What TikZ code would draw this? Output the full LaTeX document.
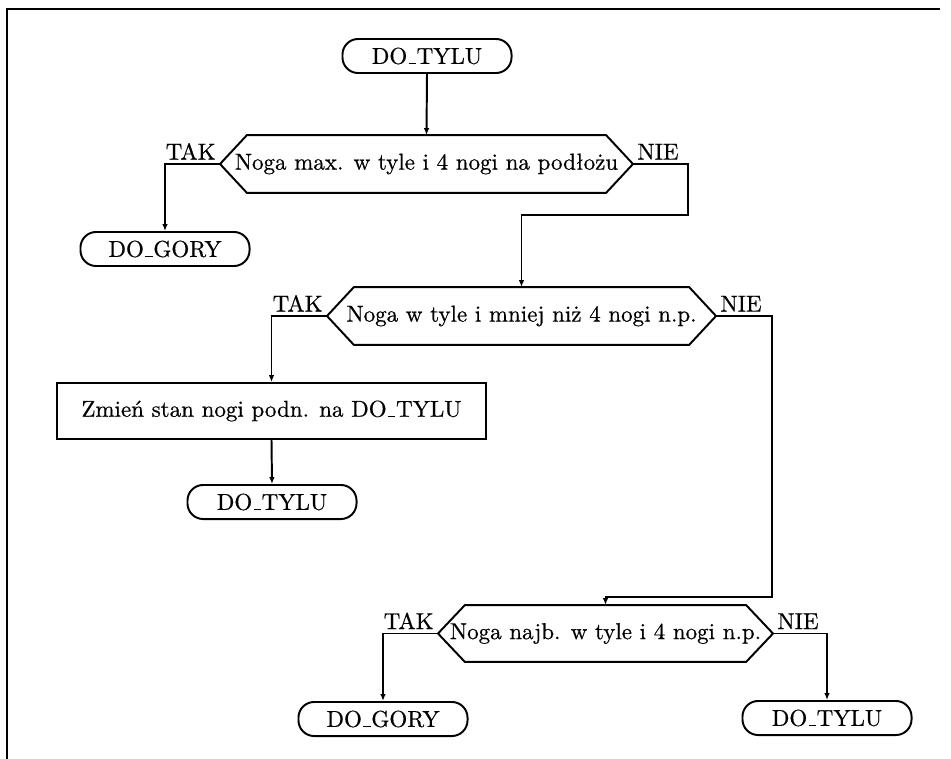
\documentclass[tikz,border=0pt]{standalone}
\usepackage{fontspec}
\setmainfont{Latin Modern Roman}[FakeBold=0.6]
\usetikzlibrary{arrows.meta}
\newcommand\usc{\leavevmode\kern.06em\vbox{\hrule width.32em height.5pt}\kern.03em}
\begin{document}
\begin{tikzpicture}[x=0.4348pt,y=-0.4348pt,
  line width=0.85pt,
  term/.style={draw,rounded corners=6.8pt,minimum width=73.5pt,minimum height=14.8pt,inner sep=0pt},
  proc/.style={draw,minimum width=186.5pt,minimum height=24.3pt,inner sep=0pt},
  dec/.style={inner sep=0pt},
  lbl/.style={inner sep=1.5pt},
  arr/.style={-{Latex[length=3pt,width=2.4pt]}}]
\useasboundingbox (0,0) rectangle (951,759);
% frame
\draw[line width=1pt] (7,759) -- (7,9) -- (940,9);
% terminals
\node[term] (t0) at (427,56) {DO\usc TYLU};
\node[term] (t1) at (165,249) {DO\usc GORY};
\node[term] (t2) at (272,502) {DO\usc TYLU};
\node[term] (t3) at (383,719) {DO\usc GORY};
\node[term] (t4) at (827,718) {DO\usc TYLU};
% process
\node[proc] (r) at (271.5,411) {Zmień stan nogi podn. na DO\usc TYLU};
% decisions
\node[dec,minimum width=178.7pt,minimum height=24.3pt] (d1) at (426.5,164) {Noga max. w tyle i 4 nogi na podłożu};
\node[dec,minimum width=168.3pt,minimum height=24.3pt] (d2) at (521.5,316) {Noga w tyle i mniej niż 4 nogi n.p.};
\node[dec,minimum width=144.8pt,minimum height=23.9pt] (d3) at (605.5,633.5) {Noga najb. w tyle i 4 nogi n.p.};
\foreach \d in {d1,d2,d3}{
  \draw (\d.west) -- ([xshift=11.7pt]\d.north west) -- ([xshift=-11.7pt]\d.north east)
        -- (\d.east) -- ([xshift=-11.7pt]\d.south east) -- ([xshift=11.7pt]\d.south west) -- cycle;
}
% labels
\node[lbl,anchor=south east] (tak1) at (d1.west) {TAK};
\node[lbl,anchor=south west] (nie1) at (d1.east) {NIE};
\node[lbl,anchor=south east] (tak2) at (d2.west) {TAK};
\node[lbl,anchor=south west] (nie2) at (d2.east) {NIE};
\node[lbl,anchor=south east] (tak3) at (d3.west) {TAK};
\node[lbl,anchor=south west] (nie3) at (d3.east) {NIE};
% junctions
\coordinate (j1) at (688,215);
\coordinate (j2) at (772,597);
% connectors
\draw[arr] (t0.south) -- (d1.north);
\draw[arr] (d1.west) -| (t1.north);
\draw[arr] (d1.east) -| (j1) -| (d2.north);
\draw[arr] (d2.west) -| (r.north);
\draw[arr] (r.south) -- (t2.north);
\draw[arr] (d2.east) -| (j2) -| (d3.north);
\draw[arr] (d3.west) -| (t3.north);
\draw[arr] (d3.east) -| (t4.north);
\end{tikzpicture}
\end{document}
